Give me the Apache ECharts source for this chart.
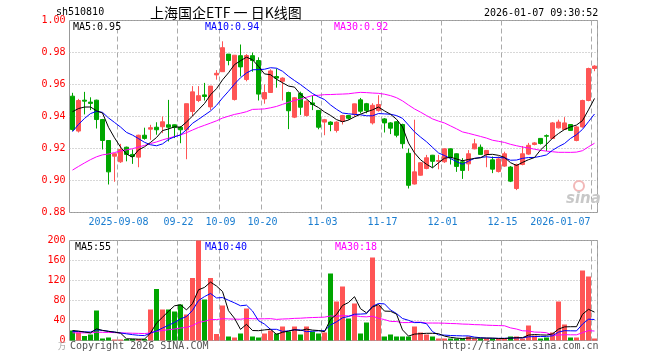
<!DOCTYPE html>
<html>
<head>
<meta charset="utf-8">
<script src="https://cdn.jsdelivr.net/npm/echarts@6/dist/echarts.min.js"></script>
<style>
    html, body { margin: 0; padding: 0; background: #fff; }
    #main { width: 660px; height: 360px; }
</style>
</head>
<body>
<div id="main"></div>
<script>
// 交易日
var dates = [
    '2025-08-27','2025-08-28','2025-08-29',
    '2025-09-01','2025-09-02','2025-09-03','2025-09-04','2025-09-05','2025-09-08','2025-09-09','2025-09-10','2025-09-11','2025-09-12',
    '2025-09-15','2025-09-16','2025-09-17','2025-09-18','2025-09-19','2025-09-22','2025-09-23','2025-09-24','2025-09-25','2025-09-26',
    '2025-09-29','2025-09-30',
    '2025-10-09','2025-10-10','2025-10-13','2025-10-14','2025-10-15','2025-10-16','2025-10-17','2025-10-20','2025-10-21','2025-10-22',
    '2025-10-23','2025-10-24','2025-10-27','2025-10-28','2025-10-29','2025-10-30','2025-10-31',
    '2025-11-03','2025-11-04','2025-11-05','2025-11-06','2025-11-07','2025-11-10','2025-11-11','2025-11-12','2025-11-13','2025-11-14',
    '2025-11-17','2025-11-18','2025-11-19','2025-11-20','2025-11-21','2025-11-24','2025-11-25','2025-11-26','2025-11-27','2025-11-28',
    '2025-12-01','2025-12-02','2025-12-03','2025-12-04','2025-12-05','2025-12-08','2025-12-09','2025-12-10','2025-12-11','2025-12-12',
    '2025-12-15','2025-12-16','2025-12-17','2025-12-18','2025-12-19','2025-12-22','2025-12-23','2025-12-24','2025-12-25','2025-12-26',
    '2025-12-29','2025-12-30','2025-12-31',
    '2026-01-05','2026-01-06','2026-01-07'
];

// 开 收 低 高
var opens = [
    .9527,.9309,.9502,.9490,.9502,.9381,.9250,.9152,.9117,.9208,
    .9163,.9146,.9283,.9321,.9333,.9336,.9348,.9348,.9333,.9317,
    .9431,.9500,.9535,.9460,.9660,.9680,.9790,.9506,.9780,.9631,
    .9780,.9750,.9510,.9550,.9650,.9620,.9550,.9396,.9544,.9406,
    .9485,.9438,.9365,.9365,.9313,.9370,.9406,.9412,.9504,.9480,
    .9360,.9437,.9385,.9360,.9367,.9350,.9170,.8978,.9033,.9075,
    .9158,.9120,.9117,.9198,.9167,.9117,.9104,.9198,.9208,.9163,
    .9129,.9056,.9090,.9084,.8950,.9100,.9165,.9225,.9263,.9280,
    .9263,.9329,.9319,.9350,.9250,.9335,.9500,.9700
];
var closes = [
    .9319,.9500,.9496,.9482,.9381,.9250,.9054,.9167,.9194,.9163,
    .9150,.9283,.9263,.9330,.9317,.9367,.9333,.9331,.9317,.9480,
    .9554,.9530,.9525,.9590,.9670,.9830,.9750,.9783,.9710,.9781,
    .9750,.9540,.9550,.9685,.9640,.9640,.9436,.9517,.9458,.9496,
    .9475,.9333,.9380,.9350,.9365,.9406,.9389,.9479,.9433,.9437,
    .9470,.9475,.9360,.9327,.9283,.9230,.8970,.9054,.9111,.9142,
    .9120,.9125,.9198,.9142,.9088,.9063,.9167,.9229,.9163,.9188,
    .9071,.9135,.9167,.8996,.9100,.9167,.9220,.9235,.9231,.9277,
    .9360,.9365,.9360,.9313,.9335,.9500,.9700,.9715
];
var lows = [
    .9310,.9300,.9413,.9440,.9325,.9194,.8975,.8992,.9110,.9120,
    .9104,.9083,.9255,.9254,.9286,.9296,.9244,.9265,.9233,.9133,
    .9400,.9490,.9500,.9440,.9630,.9680,.9720,.9500,.9650,.9620,
    .9680,.9500,.9480,.9550,.9580,.9500,.9321,.9390,.9410,.9400,
    .9440,.9320,.9283,.9308,.9300,.9350,.9380,.9400,.9420,.9420,
    .9350,.9430,.9300,.9290,.9270,.9200,.8950,.8975,.9030,.9070,
    .9080,.9070,.9110,.9100,.9054,.9010,.9060,.9195,.9160,.9083,
    .9046,.9050,.9085,.8990,.8940,.9095,.9160,.9220,.9225,.9184,
    .9260,.9325,.9315,.9310,.9245,.9330,.9495,.9683
];
var highs = [
    .9548,.9510,.9554,.9520,.9505,.9385,.9252,.9170,.9229,.9212,
    .9194,.9286,.9330,.9348,.9364,.9400,.9504,.9350,.9340,.9480,
    .9590,.9590,.9610,.9590,.9690,.9870,.9790,.9783,.9850,.9790,
    .9800,.9770,.9600,.9695,.9700,.9645,.9555,.9522,.9555,.9500,
    .9530,.9440,.9385,.9370,.9370,.9410,.9410,.9480,.9516,.9485,
    .9483,.9533,.9390,.9365,.9370,.9355,.9200,.9380,.9115,.9160,
    .9160,.9160,.9200,.9200,.9170,.9140,.9190,.9260,.9225,.9190,
    .9150,.9150,.9180,.9090,.9105,.9215,.9235,.9240,.9265,.9288,
    .9365,.9380,.9396,.9352,.9340,.9505,.9705,.9720
];
// 成交量(万)
var volumes = [
    20,16,9,12,60,4,6,2,2,3,
    3,3,3,62,103,62,62,58,72,52,
    125,200,82,125,13,70,8,6,14,64,
    8,6,14,20,14,28,18,28,12,28,
    18,14,16,134,78,108,44,74,14,36,
    166,70,8,12,8,8,8,28,16,12,
    8,4,4,4,4,4,8,4,4,4,
    4,4,4,8,8,4,30,10,4,6,
    16,78,32,6,6,140,128,4
];
// 图表区之前的收盘价和成交量(均线用, 按均线走势估计)
var closesBefore = [
    .882,.884,.886,.885,.888,.890,.889,.892,.894,.893,
    .896,.897,.899,.900,.899,.901,.902,.904,.903,.906,
    .905,.912,.918,.924,.9315,.940,.945,.948,.950
];
var volumesBefore = [
    12,14,16,13,15,11,14,17,13,15,
    12,16,14,15,13,14,16,12,15,12,
    14,18,15,17,16,22,18,21,19
];

// x轴刻度
var labelIndex = [8, 18, 25, 32, 42, 52, 62, 72, 87];
var labelText = ['2025-09-08', '09-22', '10-09', '10-20', '11-03', '11-17', '12-01', '12-15', '2026-01-07'];

var priceTicks = [0.88, 0.90, 0.92, 0.94, 0.96, 0.98, 1.00];
var volTicks = [0, 40, 80, 120, 160, 200];

var RED = '#ff5555', GREEN = '#00a600';
var MONO = 'DejaVu Sans Mono';

(function(){

    // 移动平均
    function ma(list, before, n){
        var all = before.concat(list);
        var off = before.length;
        var result = [];
        for(var i = 0; i < list.length; i++){
            var sum = 0;
            for(var k = 0; k < n; k++){
                sum += all[off + i - k];
            }
            result.push(+(sum / n).toFixed(5));
        }
        return result;
    }

    var kData = [];
    var volData = [];
    for(var i = 0; i < dates.length; i++){
        kData.push([opens[i], closes[i], lows[i], highs[i]]);
        volData.push({
            value: volumes[i],
            itemStyle: {color: closes[i] >= opens[i] ? RED : GREEN}
        });
    }

    function showIdx(index){
        return labelIndex.indexOf(index) >= 0;
    }

    var vSplit = {
        show: true,
        interval: function(index){ return showIdx(index); },
        lineStyle: {color: '#aaaaaa', type: [5, 3], width: 1}
    };
    var hSplit = {
        show: true,
        lineStyle: {color: '#b0b0b0', type: [1, 2], width: 1}
    };

    function lineSeries(data, color, xi){
        return {
            type: 'line', data: data, xAxisIndex: xi, yAxisIndex: xi,
            symbol: 'none', silent: true,
            lineStyle: {color: color, width: 1}
        };
    }

    // 文字, x y 为左端中线位置
    function txt(x, y, text, color, opt){
        opt = opt || {};
        return {
            type: 'text', x: x, y: y, silent: true, z: 100,
            style: {
                text: text, fill: color,
                font: (opt.font || ('10px ' + MONO)),
                align: opt.align || 'left',
                verticalAlign: 'middle'
            }
        };
    }

    var chart = echarts.init(document.getElementById('main'), null, {renderer: 'canvas'});

    var option = {
        animation: false,
        backgroundColor: '#fff',
        grid: [
            {left: 69.5, top: 20.5, width: 528, height: 192, show: true, borderColor: '#999', borderWidth: 1, backgroundColor: 'transparent'},
            {left: 69.5, top: 240.5, width: 528, height: 100, show: true, borderColor: '#999', borderWidth: 1, backgroundColor: 'transparent'}
        ],
        xAxis: [
            {
                type: 'category', gridIndex: 0, data: dates, boundaryGap: true,
                axisLine: {show: false}, axisTick: {show: false},
                axisLabel: {
                    interval: function(index){ return showIdx(index); },
                    formatter: function(v, index){
                        var k = labelIndex.indexOf(index);
                        return k >= 0 ? labelText[k] : '';
                    },
                    color: '#1a7dd0', fontFamily: MONO, fontSize: 10, margin: 5,
                    padding: [0, 4, 0, 0],
                    alignMaxLabel: 'right'
                },
                splitLine: vSplit
            },
            {
                type: 'category', gridIndex: 1, data: dates, boundaryGap: true,
                axisLine: {show: false}, axisTick: {show: false}, axisLabel: {show: false},
                splitLine: vSplit
            }
        ],
        yAxis: [
            {
                type: 'value', gridIndex: 0, min: priceTicks[0], max: priceTicks[priceTicks.length - 1], interval: 0.02,
                axisLine: {show: false}, axisTick: {show: false},
                axisLabel: {
                    color: '#ff0000', fontFamily: MONO, fontSize: 10, margin: 4,
                    formatter: function(v){ return v.toFixed(2); }
                },
                splitLine: hSplit
            },
            {
                type: 'value', gridIndex: 1, min: volTicks[0], max: volTicks[volTicks.length - 1], interval: 40,
                axisLine: {show: false}, axisTick: {show: false},
                axisLabel: {color: '#ff0000', fontFamily: MONO, fontSize: 10, margin: 4},
                splitLine: hSplit
            }
        ],
        series: [
            {
                type: 'candlestick', data: kData, xAxisIndex: 0, yAxisIndex: 0,
                barWidth: 5, silent: true,
                itemStyle: {
                    color: RED, color0: GREEN,
                    borderColor: RED, borderColor0: GREEN, borderWidth: 1
                }
            },
            lineSeries(ma(closes, closesBefore, 30), '#ff00ff', 0),
            lineSeries(ma(closes, closesBefore, 10), '#0000ff', 0),
            lineSeries(ma(closes, closesBefore, 5), '#000000', 0),
            {
                type: 'bar', data: volData, xAxisIndex: 1, yAxisIndex: 1,
                barWidth: 5, silent: true
            },
            lineSeries(ma(volumes, volumesBefore, 30), '#ff00ff', 1),
            lineSeries(ma(volumes, volumesBefore, 10), '#0000ff', 1),
            lineSeries(ma(volumes, volumesBefore, 5), '#000000', 1)
        ],
        graphic: [
            txt(56, 12, 'sh510810', '#000'),
            txt(150, 13, '上海国企ETF 一 日K线图', '#000', {font: '14px "Noto Sans CJK SC"'}),
            txt(484, 13, '2026-01-07 09:30:52', '#000'),
            txt(73, 27, 'MA5:0.95', '#000'),
            txt(205, 27, 'MA10:0.94', '#0000ff'),
            txt(334, 27, 'MA30:0.92', '#ff00ff'),
            txt(75, 247, 'MA5:55', '#000'),
            txt(205, 247, 'MA10:40', '#0000ff'),
            txt(335, 247, 'MA30:18', '#ff00ff'),
            txt(70, 346, 'Copyright 2026 SINA.COM', '#555'),
            txt(442, 346, 'http://finance.sina.com.cn', '#555'),
            txt(58, 346, '万', '#999', {font: '8px "Noto Sans CJK SC"'}),
            {
                type: 'circle', x: 579, y: 186, silent: true, z: 90,
                shape: {r: 5},
                style: {fill: 'none', stroke: '#f2b8b8', lineWidth: 2}
            },
            txt(566, 199, 'sina', '#c8c8c8', {font: 'italic bold 15px "DejaVu Sans"'})
        ]
    };
    chart.setOption(option);
})();
</script>
</body>
</html>
